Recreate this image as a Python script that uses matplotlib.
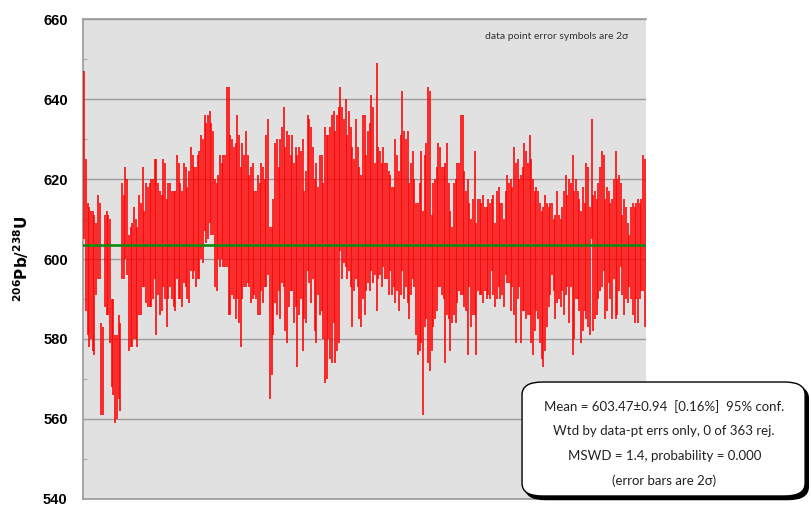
import numpy as np
import matplotlib
matplotlib.use('Agg')
import matplotlib.pyplot as plt
from matplotlib.patches import FancyBboxPatch
from matplotlib.ticker import MultipleLocator

# 2-sigma error bar ends (206Pb/238U ages, Ma), left to right
hi_a = [647, 625, 614, 613, 612, 612, 611, 609, 616, 614, 584, 583, 611, 612, 611, 610,
        590, 590, 581, 581, 586, 584, 619, 616, 623, 620, 606, 608, 609, 613, 610, 608,
        616, 614, 623, 612, 619, 618, 619, 620, 620, 625, 625, 619, 617, 616, 625, 624,
        615, 619, 619, 617, 617, 617, 626, 624, 619, 617, 624, 623, 618, 622, 628, 626,
        623, 623, 626, 627, 631, 630, 636, 634, 636, 637, 634, 632, 620, 619, 621, 626,
        624, 626, 626, 643, 643, 631, 630, 628, 629, 636, 631, 623, 629, 626, 632, 626,
        621, 623, 624, 617, 617, 621, 619, 624, 623, 620]
lo_a = [605, 587, 581, 578, 580, 577, 576, 591, 595, 595, 561, 561, 588, 586, 586, 579,
        568, 566, 559, 560, 565, 562, 595, 595, 600, 596, 577, 578, 578, 580, 580, 578,
        586, 586, 593, 593, 589, 588, 588, 588, 590, 595, 581, 591, 586, 587, 593, 590,
        583, 590, 593, 590, 588, 587, 595, 590, 590, 588, 594, 593, 590, 589, 597, 595,
        597, 593, 595, 595, 600, 599, 607, 604, 605, 609, 606, 606, 593, 592, 600, 598,
        600, 598, 598, 598, 586, 586, 591, 590, 585, 590, 584, 578, 590, 593, 593, 594,
        593, 589, 590, 591, 590, 586, 586, 592, 589, 593]
hi_b = [631, 635, 608, 608, 615, 629, 630, 623, 630, 633, 638, 628, 632, 631, 626, 631,
        624, 628, 626, 628, 627, 630, 617, 622, 636, 635, 633, 628, 620, 624, 618, 626,
        626, 619, 633, 631, 631, 633, 636, 637, 632, 636, 638, 643, 638, 635, 640, 631,
        637, 633, 628, 625, 635, 628, 623, 621, 636, 636, 626, 632, 634, 641, 638, 624,
        649, 628, 627, 624, 628, 624, 624, 622, 621, 618, 618, 630, 626, 622, 631, 642,
        632, 630, 632, 619, 624, 627, 620, 614, 614, 619, 627, 612, 626, 629, 643, 642,
        611, 619, 620, 623, 629, 628, 623, 623, 624, 629, 619, 612, 608, 619]
lo_b = [593, 596, 565, 571, 581, 589, 586, 592, 585, 594, 593, 582, 579, 588, 592, 592,
        584, 588, 573, 586, 590, 577, 585, 584, 597, 594, 589, 595, 582, 579, 591, 586,
        587, 580, 569, 570, 580, 575, 574, 584, 574, 577, 579, 602, 595, 599, 598, 595,
        597, 593, 583, 592, 595, 593, 585, 583, 590, 586, 592, 594, 592, 597, 594, 596,
        587, 595, 596, 593, 598, 595, 595, 591, 597, 591, 593, 589, 592, 587, 591, 597,
        590, 593, 589, 585, 591, 595, 593, 581, 576, 577, 579, 561, 583, 585, 574, 572,
        577, 583, 585, 587, 593, 593, 591, 590, 574, 586, 585, 577, 584, 586]
hi_c = [620, 624, 624, 636, 636, 622, 617, 620, 614, 610, 615, 627, 609, 615, 615, 614,
        616, 613, 613, 615, 614, 615, 616, 609, 617, 618, 614, 614, 610, 617, 621, 619,
        620, 618, 628, 624, 625, 620, 621, 623, 629, 627, 624, 631, 625, 620, 617, 618,
        617, 614, 612, 613, 616, 614, 613, 614, 614, 610, 611, 617, 611, 610, 613, 617,
        621, 616, 620, 619, 626, 617, 620, 617, 615, 612, 618, 614, 624, 623, 613, 635,
        616, 617, 615, 619, 623, 627, 626, 615, 618, 617, 614, 615, 620, 627, 620, 621,
        619, 611, 615, 613, 609, 606, 613, 614, 613, 614, 615, 614, 615, 626, 625]
lo_c = [584, 589, 592, 591, 591, 588, 587, 576, 593, 583, 586, 586, 576, 592, 591, 591,
        589, 592, 590, 591, 590, 597, 591, 588, 590, 593, 590, 591, 588, 596, 594, 594,
        587, 593, 586, 579, 590, 593, 579, 587, 587, 585, 586, 586, 579, 576, 582, 587,
        585, 579, 575, 573, 577, 583, 588, 591, 596, 592, 585, 589, 590, 588, 592, 586,
        591, 593, 584, 593, 576, 580, 590, 590, 587, 579, 582, 587, 585, 583, 581, 605,
        582, 585, 586, 590, 592, 593, 597, 585, 587, 594, 590, 585, 595, 585, 586, 592,
        598, 591, 586, 590, 589, 593, 590, 586, 584, 590, 584, 590, 592, 592, 583]

hi = np.array(hi_a + hi_b + hi_c, dtype=float)
lo = np.array(lo_a + lo_b + lo_c, dtype=float)
n = len(hi)
idx = np.arange(1, n + 1)

wmean = 603.47
yticks = [540, 560, 580, 600, 620, 640, 660]
summary = ["Mean = 603.47\u00b10.94  [0.16%]  95% conf.",
           "Wtd by data-pt errs only, 0 of 363 rej.",
           "MSWD = 1.4, probability = 0.000",
           "(error bars are 2\u03c3)"]

plt.rcParams['font.family'] = ['Liberation Sans', 'DejaVu Sans']
fig = plt.figure(figsize=(8.11, 5.07), dpi=100)
ax = fig.add_axes([0.1023, 0.0158, 0.6943, 0.9467])
ax.set_facecolor('#e1e1e1')

ax.vlines(idx, lo, hi, color='#ff0000', lw=1.15, zorder=3)
ax.axhline(wmean, color='#118a11', lw=1.9, zorder=4)

ax.set_xlim(0.3, n + 0.7)
ax.set_ylim(540, 660)
ax.set_yticks(yticks)
ax.yaxis.set_minor_locator(MultipleLocator(10))
ax.set_xticks([])
ax.grid(axis='y', which='major', color='#9a9a9a', lw=1.0, zorder=1)
ax.tick_params(axis='y', which='major', length=0, pad=11, labelsize=10.5)
ax.tick_params(axis='y', which='minor', direction='in', length=3, color='#9a9a9a')
for lab in ax.get_yticklabels():
    lab.set_fontweight('bold')
for side in ['left', 'top', 'bottom']:
    ax.spines[side].set_color('#9a9a9a')
    ax.spines[side].set_linewidth(1.2)
ax.spines['right'].set_visible(False)

ax.set_ylabel('$\\mathbf{^{206}Pb/^{238}U}$', fontsize=11, fontweight='bold', labelpad=9)
ax.text(0.968, 0.963, 'data point error symbols are 2\u03c3', transform=ax.transAxes,
        ha='right', va='center', fontsize=7.5, color='#333333', family=['Lato', 'DejaVu Sans'])

# summary box with drop shadow
bx0, by0, bw, bh = 0.6437, 0.0217, 0.3490, 0.2248
shadow = FancyBboxPatch((bx0 + 0.004, by0 - 0.007), bw, bh,
                        boxstyle='round,pad=0,rounding_size=0.025',
                        transform=fig.transFigure, fc='black', ec='black', zorder=10)
box = FancyBboxPatch((bx0, by0), bw, bh, boxstyle='round,pad=0,rounding_size=0.025',
                     transform=fig.transFigure, fc='white', ec='black', lw=1.0, zorder=11)
fig.patches.extend([shadow, box])
for i, line in enumerate(summary):
    fig.text(0.819, 0.199 - i * 0.049, line, ha='center', va='center', fontsize=9.5,
             family=['Lato', 'DejaVu Sans'], color='#222222', zorder=12)

fig.savefig('out.png', dpi=100)
